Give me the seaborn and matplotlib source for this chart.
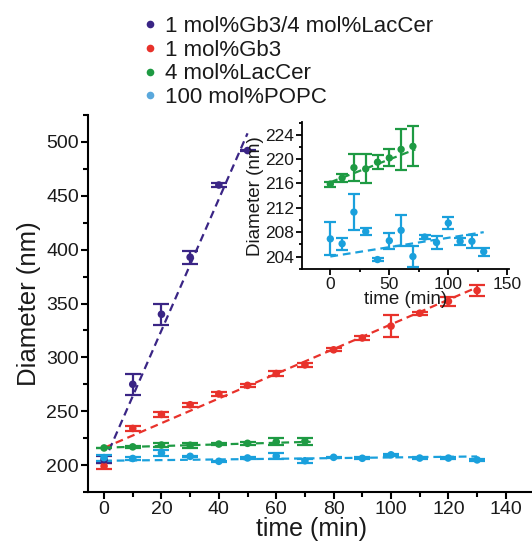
import numpy as np
import pandas as pd
import matplotlib
matplotlib.use("Agg")
import matplotlib.pyplot as plt
import seaborn as sns
from matplotlib.lines import Line2D
from matplotlib.ticker import MultipleLocator

# ---------------- data ----------------
series_names = ["1 mol%Gb3/4 mol%LacCer", "1 mol%Gb3", "4 mol%LacCer", "100 mol%POPC"]

t_mix = [0, 10, 20, 30, 40, 50]
d_mix = [205, 275, 340, 393, 460, 492]
e_mix = [3, 10, 10, 6, 2, 0.5]

t_gb3 = [0, 10, 20, 30, 40, 50, 60, 70, 80, 90, 100, 110, 120, 130]
d_gb3 = [199, 234, 247, 256, 266, 274, 285, 293, 307, 318, 329, 341, 352, 362]
e_gb3 = [3, 2.5, 2.5, 2, 2, 1.5, 2, 1.5, 1.5, 1.5, 10, 1.5, 4, 5]

t_lac = [0, 10, 20, 30, 40, 50, 60, 70]
d_lac = [215.9, 216.9, 218.6, 218.4, 219.5, 220.2, 221.6, 222.1]
e_lac = [0.4, 0.6, 2.2, 2.4, 1.2, 1.4, 3.4, 3.3]

t_popc = [0, 10, 20, 30, 40, 50, 60, 70, 80, 90, 100, 110, 120, 130]
d_popc = [206.9, 206.1, 211.3, 208.1, 203.5, 206.6, 208.3, 204.0, 207.2, 206.3, 209.5, 206.5, 206.5, 204.8]
e_popc = [2.7, 1.0, 3.0, 0.6, 0.3, 1.3, 2.5, 1.8, 0.3, 1.0, 1.0, 0.6, 1.1, 0.65]

# linear-fit guide lines (end points)
fit_mix_t = [0, 50]
fit_mix_d = [203, 508]
fit_gb3_t = [0, 130]
fit_gb3_d = [216, 365]
fit_lac_t = [0, 72]
fit_lac_d = [216.2, 221.6]
fit_popc_t = [0, 130]
fit_popc_d = [204.0, 208.0]

main_xticks = [0, 20, 40, 60, 80, 100, 120, 140]
main_yticks = [200, 250, 300, 350, 400, 450, 500]
inset_xticks = [0, 50, 100, 150]
inset_yticks = [204, 208, 212, 216, 220, 224]

colors = ["#3a2585", "#e8322b", "#1e9a43", "#1aa0dc"]
legend_colors = ["#3a2585", "#e8322b", "#1e9a43", "#5aa8dc"]

# ---------------- style ----------------
sns.set_theme(style="ticks")
plt.rcParams["font.family"] = ["Liberation Sans", "DejaVu Sans"]
plt.rcParams["axes.linewidth"] = 1.5

W, H = 532, 548
fig = plt.figure(figsize=(W / 100, H / 100), dpi=100)
fig.patch.set_facecolor("white")

def px_box(left, top, right, bottom):
    return [left / W, 1 - bottom / H, (right - left) / W, (bottom - top) / H]

ax = fig.add_axes(px_box(88, 115, 534.5, 492))
axin = fig.add_axes(px_box(302, 122, 508.5, 269.3))

data = [
    (t_mix, d_mix, e_mix, fit_mix_t, fit_mix_d),
    (t_gb3, d_gb3, e_gb3, fit_gb3_t, fit_gb3_d),
    (t_lac, d_lac, e_lac, fit_lac_t, fit_lac_d),
    (t_popc, d_popc, e_popc, fit_popc_t, fit_popc_d),
]

def draw(axis, idxs, ms, capsize, lw):
    for i in idxs:
        t, d, e, ft, fd = data[i]
        c = colors[i]
        fit_df = pd.DataFrame({"t": ft, "d": fd})
        sns.lineplot(data=fit_df, x="t", y="d", ax=axis, color=c, lw=lw,
                     linestyle=(0, (3.5, 2.2)), legend=False)
        axis.errorbar(t, d, yerr=e, fmt="none", ecolor=c, elinewidth=lw,
                      capsize=capsize, capthick=lw, zorder=3)
        df = pd.DataFrame({"t": t, "d": d})
        sns.scatterplot(data=df, x="t", y="d", ax=axis, color=c, s=ms,
                        edgecolor="none", zorder=4, legend=False)

draw(ax, [1, 0, 2, 3], ms=30, capsize=6, lw=1.6)
draw(axin, [2, 3], ms=28, capsize=4.5, lw=1.6)

# main axes
ax.set_xlim(-5.6, 150)
ax.set_ylim(175, 525)
ax.set_xticks(main_xticks)
ax.set_yticks(main_yticks)
ax.xaxis.set_minor_locator(MultipleLocator(10))
ax.yaxis.set_minor_locator(MultipleLocator(25))
ax.tick_params(axis="both", which="major", direction="out", length=5, width=1.5,
               labelsize=14, color="black", labelcolor="#1a1a1a", pad=1.5)
ax.tick_params(axis="both", which="minor", direction="out", length=3.5, width=1.5,
               color="black")
ax.set_xlabel("time (min)", fontsize=18, color="#1a1a1a", labelpad=-1)
ax.set_ylabel("Diameter (nm)", fontsize=18.5, color="#1a1a1a", labelpad=4)
for s in ["top", "right"]:
    ax.spines[s].set_visible(False)
for s in ["left", "bottom"]:
    ax.spines[s].set_color("black")
    ax.spines[s].set_linewidth(1.5)
ax.set_facecolor("none")

# inset axes
axin.set_xlim(-24, 151)
axin.set_ylim(201.9, 226.1)
axin.set_xticks(inset_xticks)
axin.set_yticks(inset_yticks)
axin.xaxis.set_minor_locator(MultipleLocator(25))
axin.yaxis.set_minor_locator(MultipleLocator(2))
axin.tick_params(axis="both", which="major", direction="out", length=4, width=1.3,
                 labelsize=12.5, color="black", labelcolor="#1a1a1a", pad=1.5)
axin.tick_params(axis="both", which="minor", direction="out", length=2.5, width=1.3,
                 color="black")
axin.set_xlabel("time (min)", fontsize=13.5, color="#1a1a1a", labelpad=-1)
axin.set_ylabel("Diameter (nm)", fontsize=13.5, color="#1a1a1a", labelpad=1)
for s in ["top", "right"]:
    axin.spines[s].set_visible(False)
for s in ["left", "bottom"]:
    axin.spines[s].set_color("black")
    axin.spines[s].set_linewidth(1.3)
axin.set_facecolor("none")

# legend
handles = [Line2D([], [], marker="o", linestyle="none", markersize=5.5,
                  markerfacecolor=c, markeredgecolor="none") for c in legend_colors]
fig.legend(handles, series_names, loc="upper left",
           bbox_to_anchor=(143 / W, 1 - 16 / H), frameon=False, fontsize=16,
           handlelength=0.6, handletextpad=0.4, labelspacing=0.12,
           borderpad=0, borderaxespad=0, labelcolor="#1a1a1a")

fig.savefig("out.png", dpi=100, facecolor="white")
